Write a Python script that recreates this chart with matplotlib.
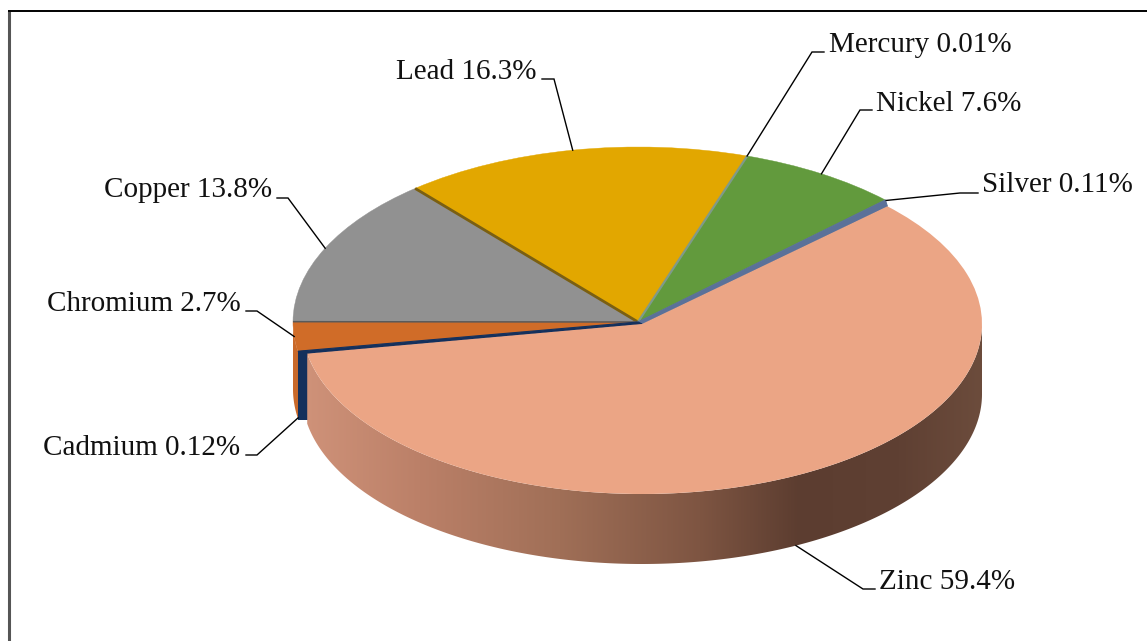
import numpy as np
import matplotlib
matplotlib.use("Agg")
import matplotlib.pyplot as plt
from matplotlib.patches import Wedge, Polygon
from matplotlib.transforms import Affine2D
from matplotlib.colors import to_rgb

# data, counter-clockwise from the Silver slice
metals = ["Silver", "Nickel", "Mercury", "Lead", "Copper", "Chromium", "Cadmium", "Zinc"]
shares = [0.11, 7.6, 0.01, 16.3, 13.8, 2.7, 0.12, 59.4]
labels = ["Silver 0.11%", "Nickel 7.6%", "Mercury 0.01%", "Lead 16.3%",
          "Copper 13.8%", "Chromium 2.7%", "Cadmium 0.12%", "Zinc 59.4%"]
face_colors = ["#5B7199", "#629A3D", "#7F9A8A", "#E2A700", "#919191", "#D06C28", "#14305C", "#EBA585"]

# layout
START_ANGLE = 43.8
CENTER = (638, 322)
RX, RY = 345, 175
ZINC_CENTER = (642, 324)
ZINC_RX, ZINC_RY = 340, 170
DEPTH = 70
label_pos = {  # text x and baseline, elbow, stub end, horizontal alignment
    "Silver": ((982, 192), (960, 193), 978, "left"),
    "Nickel": ((876, 111), (860, 110), 872, "left"),
    "Mercury": ((829, 52), (812, 52), 824, "left"),
    "Lead": ((537, 79), (554, 79), 542, "right"),
    "Copper": ((272, 197), (288, 198), 277, "right"),
    "Chromium": ((241, 311), (257, 311), 246, "right"),
    "Cadmium": ((240, 455), (257, 455), 246, "right"),
    "Zinc": ((879, 589), (863, 589), 875, "left"),
}

fig = plt.figure(figsize=(11.47, 6.41), dpi=100, facecolor="white")
ax = fig.add_axes([0, 0, 1, 1])
ax.axis("off")

fractions = np.array(shares) / sum(shares)
edges = START_ANGLE + 360 * np.concatenate([[0], np.cumsum(fractions)])


def rim(center, rx, ry, deg):
    t = np.radians(deg)
    return center[0] + rx * np.cos(t), center[1] - ry * np.sin(t)


def shade(x):
    stops_x = [305, 420, 560, 700, 800, 900, 982]
    stops = [to_rgb(c) for c in ["#CF9279", "#BB8068", "#A06F57", "#7E5542", "#5C3D30", "#5F4033", "#6C4C3C"]]
    return [np.interp(x, stops_x, [s[i] for s in stops]) for i in range(3)]


# frame
ax.plot([9, 9], [641, 11], color="#555555", lw=2.2, solid_capstyle="butt")
ax.plot([8, 1147], [11, 11], color="black", lw=1.4, solid_capstyle="butt")

# chromium side wall
chrom_i = metals.index("Chromium")
ang = np.linspace(edges[chrom_i], edges[chrom_i + 2], 30)
top = np.array([rim(CENTER, RX, RY, a) for a in ang])
wall = np.vstack([top, (top + [0, DEPTH - 3])[::-1]])
ax.add_patch(Polygon(wall, closed=True, fc="#C9692A", ec="none", zorder=1))

# cadmium cut face
cad_i = metals.index("Cadmium")
p1 = rim(CENTER, RX, RY, edges[cad_i + 1] - 0.4)
p2 = rim(ZINC_CENTER, ZINC_RX, ZINC_RY, edges[cad_i + 1])
ax.add_patch(Polygon([(p1[0], p2[1] - 4), (p2[0] + 1, p2[1] - 4), (p2[0] + 1, p2[1] + DEPTH - 4),
                      (p1[0], p2[1] + DEPTH - 4)], closed=True, fc=face_colors[cad_i], ec="none", zorder=2))

# zinc side wall: a smooth horizontal gradient clipped to the wall outline
zinc_i = metals.index("Zinc")
ang = np.linspace(edges[zinc_i], edges[zinc_i + 1], 500)
ang = ang[(ang % 360) >= 180]
z_top = np.array([rim(ZINC_CENTER, ZINC_RX, ZINC_RY, a) for a in ang])
z_wall = np.vstack([z_top, (z_top + [0, DEPTH])[::-1]])
xs = np.linspace(z_wall[:, 0].min(), z_wall[:, 0].max(), 400)
grad = np.array([shade(x) for x in xs])[None, :, :]
im = ax.imshow(grad, extent=(xs[0], xs[-1], z_wall[:, 1].max(), z_wall[:, 1].min()), aspect="auto",
               zorder=3, interpolation="bilinear")
im.set_clip_path(Polygon(z_wall, closed=True, transform=ax.transData))
ax.set_xlim(0, 1147)
ax.set_ylim(641, 0)

# top faces
main_tf = Affine2D().scale(RX, -RY).translate(*CENTER) + ax.transData
zinc_tf = Affine2D().scale(ZINC_RX, -ZINC_RY).translate(*ZINC_CENTER) + ax.transData
for name in ["Nickel", "Copper", "Lead", "Chromium"]:
    i = metals.index(name)
    ax.add_patch(Wedge((0, 0), 1, edges[i], edges[i + 1], fc=face_colors[i], ec=face_colors[i],
                       lw=0.3, transform=main_tf, zorder=5))

# dark bevels along radial edges
for name, col, lw in [("Lead", "#7A5F12", 2.0), ("Copper", "#5A5A5A", 1.1)]:
    i = metals.index(name)
    r = rim(CENTER, RX, RY, edges[i + 1])
    ax.plot([CENTER[0], r[0]], [CENTER[1], r[1]], color=col, lw=lw, zorder=5.5, solid_capstyle="butt")

# mercury: hair-thin slice shown as a line
i = metals.index("Mercury")
r = rim(CENTER, RX, RY, edges[i])
ax.plot([CENTER[0], r[0]], [CENTER[1], r[1]], color=face_colors[i], lw=1.6, zorder=5.5, solid_capstyle="butt")

# thin slices fill the gap opened by the exploded zinc slice
for name in ["Silver", "Cadmium"]:
    i = metals.index(name)
    if name == "Silver":
        a = rim(CENTER, RX, RY, edges[1])
        b = rim(ZINC_CENTER, ZINC_RX, ZINC_RY, edges[0])
    else:
        a = rim(CENTER, RX, RY, edges[cad_i])
        b = rim(ZINC_CENTER, ZINC_RX, ZINC_RY, edges[cad_i + 1])
    ax.add_patch(Polygon([CENTER, a, b, ZINC_CENTER], closed=True, fc=face_colors[i], ec=face_colors[i],
                         lw=0.8, zorder=5.7))

ax.add_patch(Wedge((0, 0), 1, edges[zinc_i], edges[zinc_i + 1], fc=face_colors[zinc_i], ec="none",
                   transform=zinc_tf, zorder=6))

# leader lines and labels
for i, name in enumerate(metals):
    mid = (edges[i] + edges[i + 1]) / 2
    text_xy, elbow, stub, ha = label_pos[name]
    if name == "Zinc":
        anchor = rim(ZINC_CENTER, ZINC_RX, ZINC_RY, mid)
        anchor = (anchor[0], anchor[1] + DEPTH)
    else:
        anchor = rim(CENTER, RX, RY, mid)
    if name == "Cadmium":
        anchor = (anchor[0], anchor[1] + DEPTH - 4)
    ax.plot([anchor[0], elbow[0], stub], [anchor[1], elbow[1], elbow[1]],
            color="black", lw=1.0, zorder=8, solid_joinstyle="miter")
    ax.text(text_xy[0], text_xy[1], labels[i], ha=ha, va="baseline", family="Liberation Serif",
            fontsize=21.0, color="#111111", zorder=9)

fig.savefig("out.png", dpi=100)
